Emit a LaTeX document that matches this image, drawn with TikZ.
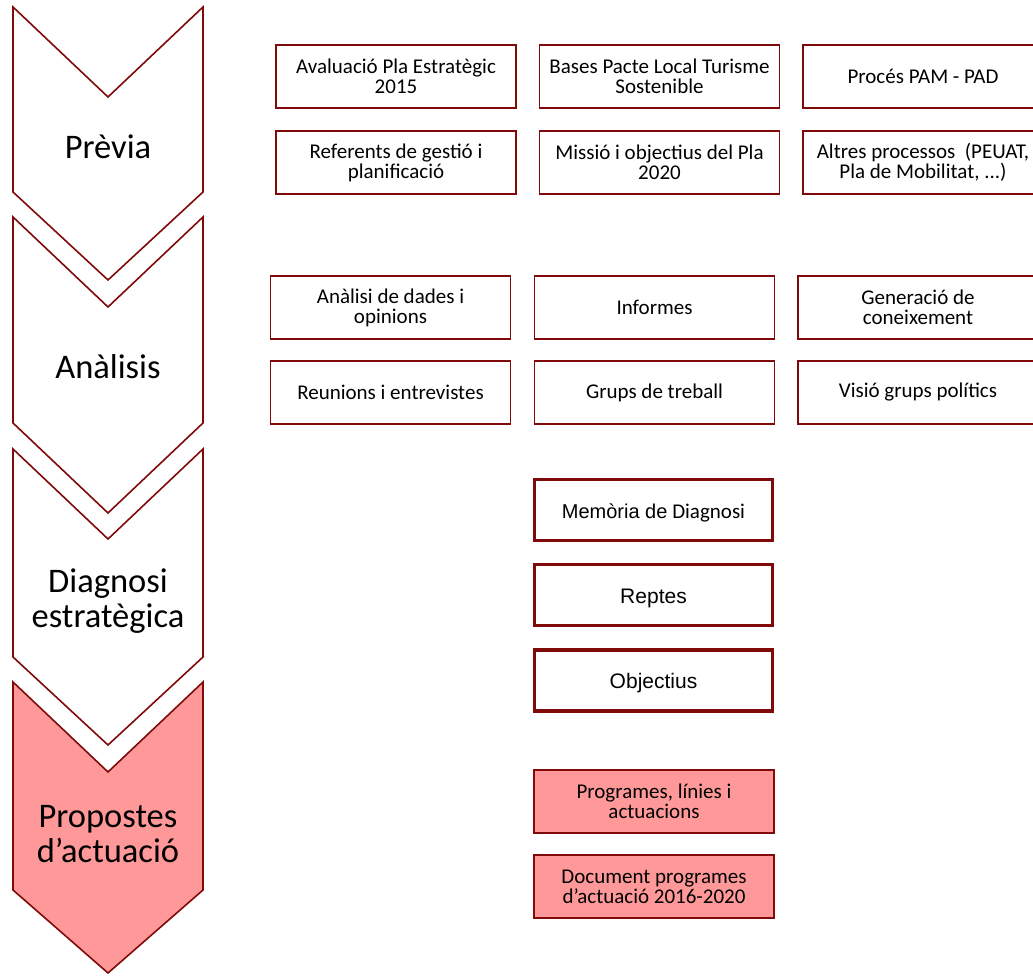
\documentclass[tikz,border=0pt]{standalone}
\usepackage{fontspec}
\setmainfont{Carlito}
\newfontfamily\arialfont{Liberation Sans}
\definecolor{granat}{RGB}{128,10,10}
\definecolor{rosa}{RGB}{255,153,153}
\tikzset{
  fase/.style={draw=granat, line width=1.6pt, line join=miter},
  caixa/.style={draw=granat, line width=1.6pt, minimum width=240, minimum height=63,
    align=center, inner sep=2pt, font=\fontsize{21}{20}\selectfont},
  forta/.style={caixa, line width=3.6pt, minimum width=238, minimum height=61,
    text height=20pt, text depth=3.5pt},
  rosada/.style={caixa, fill=rosa},
  etiqueta/.style={align=center, font=\fontsize{34.5}{35}\selectfont}
}
% #1 top, #2 bottom of sides, #3 tip
\newcommand{\fase}[4]{\draw[fase, #4] (13,#1) -- (108,#1+90) -- (203,#1) -- (203,#2) -- (108,#3) -- (13,#2) -- cycle}

\begin{document}
\begin{tikzpicture}[x=1pt, y=-1pt]
  \useasboundingbox (0,0) rectangle (1033,975);
  \clip (0,0) rectangle (1033,975);

  \fase{7}{192}{280}{fill=white};
  \fase{217}{423}{513}{fill=white};
  \fase{449}{657}{745}{fill=white};
  \fase{682}{890}{973}{fill=rosa};

  \node[etiqueta] (previa) at (108,147) {Prèvia};
  \node[etiqueta] (analisis) at (108,367) {Anàlisis};
  \node[etiqueta] (diagnosi) at (108,601) {Diagnosi\\estratègica};
  \node[etiqueta] (propostes) at (108,834) {Propostes\\d’actuació};

  \node[caixa] (a1) at (396,76.5) {Avaluació Pla Estratègic\\2015};
  \node[caixa] (a2) at (659.5,76.5) {Bases Pacte Local Turisme\\Sostenible};
  \node[caixa] (a3) at (923,76.5) {Procés PAM - PAD};
  \node[caixa] (a4) at (396,162.5) {Referents de gestió i\\planificació};
  \node[caixa] (a5) at (659.5,162.5) {Missió i objectius del Pla\\2020};
  \node[caixa] (a6) at (923,162.5) {Altres processos~ (PEUAT,\\Pla de Mobilitat, ...)};

  \node[caixa] (b1) at (390.5,307.5) {Anàlisi de dades i\\opinions};
  \node[caixa] (b2) at (654.5,307.5) {Informes};
  \node[caixa] (b3) at (918,307.5) {Generació de\\coneixement};
  \node[caixa] (b4) at (390.5,392.5) {Reunions i entrevistes};
  \node[caixa] (b5) at (654.5,392.5) {Grups de treball};
  \node[caixa] (b6) at (918,392.5) {Visió grups polítics};

  \node[forta] (c1) at (653.5,510) {{\arialfont\fontsize{20}{20}\selectfont Memòria de} Diagnosi};
  \node[forta, font=\arialfont\fontsize{21}{20}\selectfont] (c2) at (653.5,595) {Reptes};
  \node[forta, font=\arialfont\fontsize{21}{20}\selectfont] (c3) at (653.5,680.5) {Objectius};

  \node[rosada] (d1) at (654,801.5) {Programes, línies i\\actuacions};
  \node[rosada] (d2) at (654,886.5) {Document programes\\d’actuació 2016-2020};
\end{tikzpicture}
\end{document}
